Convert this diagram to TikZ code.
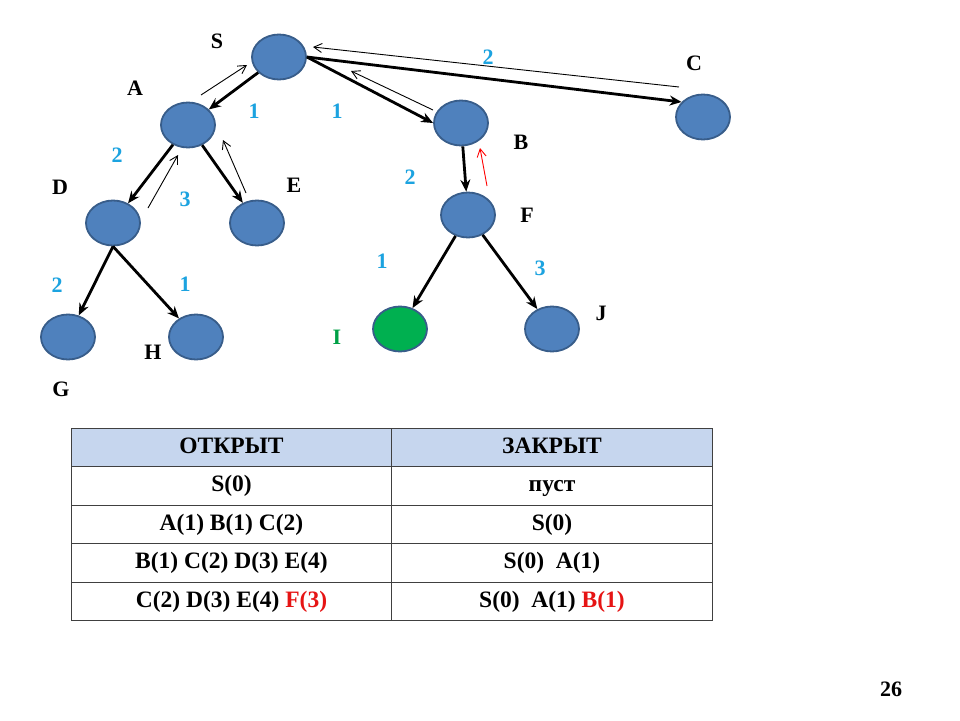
\documentclass[tikz,border=0pt]{standalone}
\usepackage{fontspec}
\setmainfont{Liberation Serif}
\usetikzlibrary{shapes.geometric,arrows.meta}
\definecolor{nodeblue}{RGB}{79,129,189}
\definecolor{nodeborder}{RGB}{56,93,138}
\definecolor{nodegreen}{RGB}{0,176,80}
\definecolor{numblue}{RGB}{28,163,224}
\definecolor{headfill}{RGB}{198,214,238}
\definecolor{redtxt}{RGB}{230,20,20}
\definecolor{labgreen}{RGB}{0,160,70}
\tikzset{
  vert/.style={ellipse,draw=nodeborder,line width=1.8pt,fill=nodeblue,minimum width=54pt,minimum height=45pt,inner sep=0pt},
  vgreen/.style={vert,fill=nodegreen},
  lab/.style={font=\fontsize{22}{24}\selectfont\bfseries,inner sep=0pt},
  num/.style={font=\fontsize{22}{24}\selectfont\bfseries,text=numblue,inner sep=0pt},
  tedge/.style={line width=2.8pt,-{Stealth[length=12pt,width=10pt]}},
  back/.style={line width=0.9pt,-{Straight Barb[length=8pt,width=9pt]}},
  cell/.style={draw=black!75,line width=1.2pt,minimum width=320.5pt,minimum height=38.5pt,inner sep=0pt,text height=16pt,text depth=5pt,font=\fontsize{23.5}{26}\selectfont\bfseries},
  hcell/.style={cell,fill=headfill}
}
\begin{document}
\begin{tikzpicture}[x=1pt,y=-1pt]
\useasboundingbox[fill=white] (0,0) rectangle (960,720);
% vertices
\node[vert] (S) at (279,57) {};
\node[vert] (A) at (188,125) {};
\node[vert] (D) at (113,223) {};
\node[vert] (E) at (257,223) {};
\node[vert] (G) at (68,337) {};
\node[vert] (H) at (196,337) {};
\node[vert] (B) at (461,123) {};
\node[vert] (F) at (468,215) {};
\node[vgreen] (I) at (400,329) {};
\node[vert] (J) at (552,329) {};
\node[vert] (C) at (703,117) {};
% labels
\node[lab] (lS) at (217,41) {S};
\node[lab] (lA) at (135,88) {A};
\node[lab] (lD) at (60,187) {D};
\node[lab] (lE) at (294,185) {E};
\node[lab] (lG) at (61,389) {G};
\node[lab] (lH) at (153,352) {H};
\node[lab] (lB) at (521,142) {B};
\node[lab] (lF) at (527,215) {F};
\node[lab,text=labgreen] (lI) at (337,337) {I};
\node[lab] (lJ) at (601,313) {J};
\node[lab] (lC) at (694,63) {C};
% weights
\node[num] (w1) at (254,111) {1};
\node[num] (w2) at (337,111) {1};
\node[num] (w3) at (488,57) {2};
\node[num] (w4) at (117,155) {2};
\node[num] (w5) at (185,199) {3};
\node[num] (w6) at (410,177) {2};
\node[num] (w7) at (382,261) {1};
\node[num] (w8) at (540,268) {3};
\node[num] (w9) at (57,285) {2};
\node[num] (w10) at (185,284) {1};
% tree edges
\draw[tedge] (S) -- (A);
\draw[tedge] (S.east) -- (B.west);
\draw[tedge] (S.east) -- (C.145);
\draw[tedge] (A) -- (D);
\draw[tedge] (A) -- (E);
\draw[tedge] (D.south) -- (G);
\draw[tedge] (D.south) -- (H);
\draw[tedge] (B) -- (F);
\draw[tedge] (F) -- (I);
\draw[tedge] (F) -- (J);
% back arrows
\coordinate (a1) at (201,95); \coordinate (a2) at (247,65);
\coordinate (c1) at (679,87); \coordinate (c2) at (313,47);
\coordinate (b1) at (433,110); \coordinate (b2) at (351,71);
\coordinate (d1) at (148,208); \coordinate (d2) at (178,155);
\coordinate (e1) at (246,193); \coordinate (e2) at (223,140);
\coordinate (f1) at (487,186); \coordinate (f2) at (480,148);
\draw[back] (a1) -- (a2);
\draw[back] (c1) -- (c2);
\draw[back] (b1) -- (b2);
\draw[back] (d1) -- (d2);
\draw[back] (e1) -- (e2);
\draw[back,draw=red] (f1) -- (f2);
% table
\node[hcell] (h1) at (231.5,447.5) {ОТКРЫТ};
\node[hcell] (h2) at (552,447.5) {ЗАКРЫТ};
\node[cell] (r1a) at (231.5,486) {S(0)};
\node[cell] (r1b) at (552,486) {пуст};
\node[cell] (r2a) at (231.5,524.5) {A(1) B(1) C(2)};
\node[cell] (r2b) at (552,524.5) {S(0)};
\node[cell] (r3a) at (231.5,563) {B(1) C(2) D(3) E(4)};
\node[cell] (r3b) at (552,563) {S(0)\ \ A(1)};
\node[cell] (r4a) at (231.5,601.5) {C(2) D(3) E(4) \textcolor{redtxt}{F(3)}};
\node[cell] (r4b) at (552,601.5) {S(0)\ \ A(1) \textcolor{redtxt}{B(1)}};
% page number
\node[lab] (pg) at (891,689) {26};
\end{tikzpicture}
\end{document}
